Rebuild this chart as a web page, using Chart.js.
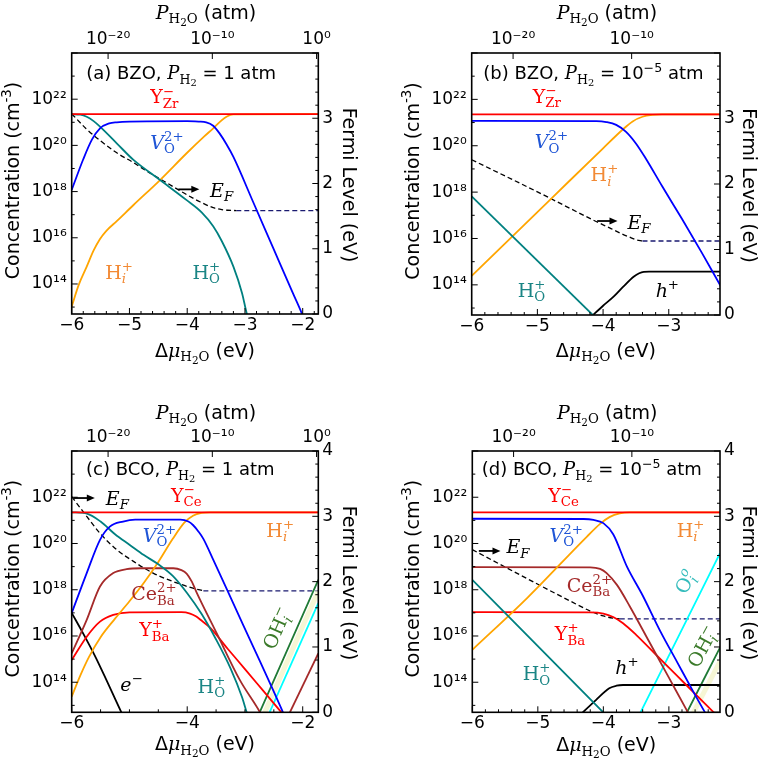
<!DOCTYPE html>
<html><head><meta charset="utf-8">
<script src="https://cdn.jsdelivr.net/npm/chart.js@4"></script>
<style>
html,body{margin:0;padding:0;background:#fff;width:761px;height:760px;overflow:hidden;}
canvas{position:absolute;}
</style></head><body>
<canvas id="ca" width="380" height="380" style="left:0;top:0"></canvas>
<canvas id="cb" width="381" height="380" style="left:380px;top:0"></canvas>
<canvas id="cc" width="380" height="380" style="left:0;top:380px"></canvas>
<canvas id="cd" width="381" height="380" style="left:380px;top:380px"></canvas>
<script>
// ---------- axis parameters ----------
const LOG_MIN = 12.7, LOG_MAX = 24.0;          // log10 concentration range
const MU_P0 = -1.76, MU_PER_DEC = 0.1805;      // Δμ at P=1 atm, eV per decade of P
const concTickExps = [14, 16, 18, 20, 22];
const a_xTicks = [-6, -5, -4, -3, -2];
const b_xTicks = [-6, -5, -4, -3];
const c_xTicks = [-6, -4, -2];
const d_xTicks = [-6, -5, -4, -3];
const ab_fTicks = [0, 1, 2, 3];
const cd_fTicks = [0, 1, 2, 3, 4];
const ac_pExps = [-20, -10, 0];
const bd_pExps = [-20, -10];

// ---------- panel (a) BZO, PH2 = 1 atm (log10 cm^-3 ; Fermi eV) ----------
const a_YZr_x = [-6, -1.73], a_YZr_y = [21.35, 21.35];
const a_VO_x = [-6, -5.8, -5.65, -5.51, -5.35, -5.22, -5.0, -4.0, -3.8, -3.67, -3.55, -3.44, -3.32, -3.2, -2.86, -2.51, -2.17, -2.02, -1.97];
const a_VO_y = [18.07, 19.4, 20.25, 20.74, 20.95, 21.0, 21.03, 21.05, 21.03, 21.0, 20.85, 20.52, 20.05, 19.5, 17.56, 15.55, 13.6, 12.75, 12.4];
const a_HO_x = [-6, -5.85, -5.74, -5.62, -5.51, -5.22, -4.93, -4.47, -4.01, -3.75, -3.55, -3.4, -3.2, -3.05, -2.97, -2.93];
const a_HO_y = [21.35, 21.33, 21.24, 21.05, 20.81, 20.09, 19.37, 18.5, 17.63, 17.1, 16.5, 15.85, 14.75, 13.6, 12.73, 12.4];
const a_Hi_x = [-6, -5.88, -5.74, -5.62, -5.51, -5.4, -5.22, -4.93, -4.47, -4.01, -3.7, -3.55, -3.42, -3.32, -3.2, -1.73];
const a_Hi_y = [13.02, 13.95, 14.75, 15.45, 15.95, 16.3, 16.72, 17.42, 18.5, 19.66, 20.4, 20.74, 21.05, 21.24, 21.34, 21.35];
const a_EF_x = [-6, -5.75, -5.51, -5.22, -4.93, -4.7, -4.47, -4.24, -4.01, -3.78, -3.55, -3.4, -3.3, -3.15];
const a_EF_y = [3.07, 2.84, 2.66, 2.47, 2.32, 2.19, 2.07, 1.95, 1.83, 1.72, 1.63, 1.6, 1.59, 1.585];
const a_EFf_x = [-3.15, -1.73], a_EFf_y = [1.585, 1.585];

// ---------- panel (b) BZO, PH2 = 1e-5 atm ----------
const b_YZr_x = [-6, -2.22], b_YZr_y = [21.35, 21.35];
const b_VO_x = [-6, -4.1, -3.95, -3.8, -3.65, -3.5, -3.35, -3.1, -2.8, -2.5, -2.21];
const b_VO_y = [21.07, 21.06, 21.02, 20.9, 20.6, 20.1, 19.45, 18.25, 16.85, 15.4, 13.95];
const b_Hi_x = [-6, -4.8, -4.0, -3.7, -3.55, -3.4, -3.25, -3.1, -2.22];
const b_Hi_y = [14.39, 17.69, 19.89, 20.7, 21.05, 21.25, 21.33, 21.35, 21.35];
const b_HO_x = [-6, -4.12], b_HO_y = [17.82, 12.6];
const b_hp_x = [-4.19, -4.0, -3.84, -3.7, -3.53, -3.45, -3.38, -3.3, -2.22];
const b_hp_y = [12.6, 13.1, 13.49, 13.9, 14.36, 14.5, 14.56, 14.57, 14.57];
const b_EF_x = [-6, -5, -4.09, -3.9, -3.74, -3.6, -3.5, -3.4];
const b_EF_y = [2.37, 1.88, 1.42, 1.33, 1.25, 1.19, 1.15, 1.13];
const b_EFf_x = [-3.4, -2.22], b_EFf_y = [1.13, 1.13];

// ---------- panel (c) BCO, PH2 = 1 atm ----------
const c_YCe_x = [-6, -1.73], c_YCe_y = [21.35, 21.35];
const c_VO_x = [-6, -5.74, -5.51, -5.34, -5.11, -4.9, -4.12, -3.98, -3.9, -3.8, -3.72, -3.55, -3.2, -2.86, -2.51, -2.36, -2.3];
const c_VO_y = [16.99, 18.72, 20.16, 20.73, 20.95, 21.03, 21.03, 20.95, 20.8, 20.5, 20.2, 19.3, 17.4, 15.55, 13.65, 12.8, 12.45];
const c_HO_x = [-6, -5.75, -5.5, -5.25, -5.0, -4.75, -4.5, -4.25, -4.0, -3.75, -3.5, -3.25, -3.05, -2.97, -2.93];
const c_HO_y = [21.35, 21.3, 20.95, 20.4, 19.95, 19.5, 19.1, 18.6, 17.85, 16.95, 15.85, 14.6, 13.35, 12.7, 12.4];
const c_Hi_x = [-6, -5.85, -5.7, -5.5, -5.25, -5.0, -4.75, -4.5, -4.25, -4.05, -3.9, -3.75, -3.6, -1.73];
const c_Hi_y = [13.38, 14.3, 15.1, 15.95, 16.75, 17.5, 18.3, 19.2, 20.2, 20.9, 21.2, 21.32, 21.35, 21.35];
const c_Ce_x = [-6, -5.74, -5.51, -5.28, -5.05, -4.8, -4.24, -4.1, -4.01, -3.92, -3.84, -3.49, -3.09, -2.74, -2.7];
const c_Ce_y = [15.25, 16.7, 18.14, 18.72, 18.89, 18.93, 18.93, 18.85, 18.7, 18.35, 17.9, 16.12, 14.1, 12.7, 12.5];
const c_Ce2_x = [-2.26, -1.73], c_Ce2_y = [12.5, 15.25];
const c_YBa_x = [-6, -5.74, -5.51, -5.28, -5.0, -4.1, -3.95, -3.85, -3.77, -3.6, -3.3, -3.0, -2.7, -2.37, -2.3];
const c_YBa_y = [14.96, 15.97, 16.62, 16.91, 17.02, 17.03, 16.97, 16.85, 16.7, 16.35, 15.45, 14.57, 13.68, 12.7, 12.5];
const c_e_x = [-6, -5.8, -5.6, -5.4, -5.15, -5.08], c_e_y = [17.0, 16.1, 15.15, 14.1, 12.75, 12.4];
const c_OH_x = [-2.78, -1.73], c_OH_y = [12.5, 18.43];
const c_Oi_x = [-2.6, -1.73], c_Oi_y = [12.55, 17.42];
const c_yel_x = [-2.69, -1.73], c_yel_y = [12.5, 17.95];
const c_EF_x = [-6, -5.74, -5.51, -5.22, -4.93, -4.59, -4.24, -3.9, -3.72];
const c_EF_y = [3.30, 3.0, 2.74, 2.49, 2.31, 2.13, 2.0, 1.9, 1.86];
const c_EFf_x = [-3.72, -1.73], c_EFf_y = [1.86, 1.86];

// ---------- panel (d) BCO, PH2 = 1e-5 atm ----------
const d_YCe_x = [-6, -2.22], d_YCe_y = [21.35, 21.35];
const d_VO_x = [-6, -4.3, -4.15, -4.0, -3.85, -3.64, -3.4, -3.13, -2.87, -2.62, -2.4, -2.35];
const d_VO_y = [21.07, 21.06, 21.02, 20.88, 20.4, 19.0, 17.75, 16.2, 14.85, 13.55, 12.45, 12.2];
const d_Hi_x = [-6, -5.16, -4.25, -4.05, -3.9, -3.75, -3.6, -2.22];
const d_Hi_y = [15.4, 17.65, 20.3, 20.85, 21.15, 21.3, 21.35, 21.35];
const d_Ce_x = [-6, -4.2, -4.05, -3.95, -3.79, -3.6, -3.3, -3.0, -2.72, -2.67];
const d_Ce_y = [18.98, 18.97, 18.9, 18.72, 18.2, 17.3, 15.75, 14.2, 12.75, 12.5];
const d_YBa_x = [-6, -4.2, -4.0, -3.85, -3.7, -3.5, -3.2, -2.9, -2.6, -2.3, -2.25];
const d_YBa_y = [17.03, 17.02, 16.97, 16.82, 16.55, 16.05, 15.2, 14.35, 13.5, 12.65, 12.5];
const d_HO_x = [-6, -3.95], d_HO_y = [18.43, 12.55];
const d_hp_x = [-4.35, -4.11, -3.91, -3.8, -3.7, -3.6, -2.22];
const d_hp_y = [12.6, 13.24, 13.74, 13.85, 13.88, 13.88, 13.88];
const d_Oi_x = [-3.45, -2.22], d_Oi_y = [12.6, 19.58];
const d_OH_x = [-2.76, -2.22], d_OH_y = [12.5, 15.5];
const d_yel_x = [-2.66, -2.22], d_yel_y = [12.5, 14.9];
const d_EF_x = [-6, -5, -4.5, -4.2, -4.0, -3.85, -3.75];
const d_EF_y = [2.49, 1.96, 1.7, 1.55, 1.475, 1.44, 1.43];
const d_EFf_x = [-3.75, -2.22], d_EFf_y = [1.43, 1.43];

// ---------- colours ----------
const RED = '#ff0000', BLUE = '#0000ff', ORANGE = '#ffa500', TEAL = '#008080', BROWN = '#a52a2a',
      CYAN = '#00ffff', GREEN = '#1f7a35', BLACK = '#000000', NAVY = '#1a1a70', PALE = 'rgba(240,240,185,0.6)';
const L_BLUE = '#1f55d6', L_ORANGE = '#f28a35', L_TEAL = '#1b8585', L_CYAN = '#35bcbc', L_GREEN = '#3b7a2a';

// ---------- rich text pieces: [text, pos(0 base,1 sub,2 sup,3 subsub), style(0 serif,1 serif italic,2 sans)] ----------
const T_YZr = [['Y',0,0],['Zr',1,0],['\u2212',2,0]];
const T_YCe = [['Y',0,0],['Ce',1,0],['\u2212',2,0]];
const T_VO = [['V',0,1],['O',1,0],['2+',2,0]];
const T_Hi = [['H',0,0],['i',1,1],['+',2,0]];
const T_HO = [['H',0,0],['O',1,0],['+',2,0]];
const T_EF = [['E',0,1],['F',1,1]];
const T_hp = [['h',0,1],['+',2,0]];
const T_em = [['e',0,1],['\u2212',2,0]];
const T_CeBa = [['Ce',0,0],['Ba',1,0],['2+',2,0]];
const T_YBa = [['Y',0,0],['Ba',1,0],['+',2,0]];
const T_OHi = [['OH',0,0],['i',1,1],['\u2212',2,0]];
const T_Oi = [['O',0,0],['i',1,1],['o',2,1]];
const T_PH2O = [['P',0,1],['H',1,0],['2',3,0],['O',1,0],[' (atm)',0,2]];
const T_DMU = [['\u0394',0,2],['\u03bc',0,1],['H',1,0],['2',3,0],['O',1,0],[' (eV)',0,2]];
const T_CONC = [['Concentration (cm',0,2],['-3',2,2],[')',0,2]];
const T_FERMI = [['Fermi Level (eV)',0,2]];
function titleOne(tag, mat){ return [['('+tag+') '+mat+', ',0,2],['P',0,1],['H',1,0],['2',3,0],[' = 1 atm',0,2]]; }
function titleM5(tag, mat){ return [['('+tag+') '+mat+', ',0,2],['P',0,1],['H',1,0],['2',3,0],[' = 10',0,2],['\u22125',2,2],[' atm',0,2]]; }

function fontFor(sz, st){ return (st===1?'italic ':'') + sz.toFixed(2) + 'px ' + (st===2?'"DejaVu Sans"':'"DejaVu Serif"'); }
function layoutRich(ctx, pieces, size){
  let x = 0, prevPos = -1, subStart = 0, subEnd = 0; const items = [];
  for (const [t,pos,st] of pieces){
    const sc = pos===0?1:(pos===3?0.55:0.7);
    const dy = pos===0?0:(pos===1?0.24*size:(pos===2?-0.42*size:0.38*size));
    ctx.font = fontFor(size*sc, st);
    const w = ctx.measureText(t).width;
    let sx = x;
    if (pos===2 && prevPos===1){ sx = subStart; }
    items.push({t, x:sx, dy, font:ctx.font});
    if (pos===2 && prevPos===1){ x = Math.max(subEnd, sx+w); }
    else { x = sx + w; }
    if (pos===1){ subStart = sx; subEnd = sx + w; }
    prevPos = pos;
  }
  return {items, width:x};
}
function drawRich(ctx, pieces, size, x, y, color, align, rot){
  const L = layoutRich(ctx, pieces, size);
  ctx.save(); ctx.translate(x, y); if (rot) ctx.rotate(rot);
  ctx.fillStyle = color; ctx.textBaseline = 'alphabetic'; ctx.textAlign = 'left';
  const x0 = align==='center' ? -L.width/2 : 0;
  const base = 0.36*size;
  for (const it of L.items){ ctx.font = it.font; ctx.fillText(it.t, x0+it.x, base+it.dy); }
  ctx.restore();
}
const SUPMAP = {'0':'\u2070','1':'\u00b9','2':'\u00b2','3':'\u00b3','4':'\u2074','5':'\u2075','6':'\u2076','7':'\u2077','8':'\u2078','9':'\u2079','-':'\u207b'};
function supStr(n){ return String(n).split('').map(c=>SUPMAP[c]).join(''); }
function numStr(v){ return v<0 ? '\u2212'+Math.abs(v) : String(v); }

// ---------- panel specifications ----------
const DEG = Math.PI/180;
const LBL = 19;
const SPEC = {
  ca: { xmin:-6, xmax:-1.73, xTicks:a_xTicks, xMinor:0.2, fTicks:ab_fTicks, pExps:ac_pExps,
        lay:{left:71.7,right:61.7,top:53,bottom:66}, off:{top:41,bottom:36,left:60,right:32,tx:14.5,ty:20},
        title:titleOne('a','BZO'),
        series:[
          {x:a_YZr_x,y:a_YZr_y,c:RED},{x:a_VO_x,y:a_VO_y,c:BLUE},{x:a_HO_x,y:a_HO_y,c:TEAL},{x:a_Hi_x,y:a_Hi_y,c:ORANGE},
          {x:a_EF_x,y:a_EF_y,c:BLACK,f:1,d:[5,3],w:1.3},{x:a_EFf_x,y:a_EFf_y,c:NAVY,f:1,d:[5,3],w:1.3}],
        labels:[
          {p:T_YZr,x:-4.64,y:22.11,c:RED},{p:T_VO,x:-4.64,y:20.16,c:L_BLUE},{p:T_EF,x:-3.605,y:1.9,f:1,c:BLACK},
          {p:T_Hi,x:-5.42,y:14.53,c:L_ORANGE},{p:T_HO,x:-3.91,y:14.53,c:L_TEAL}],
        arrow:{x1:-4.154,x2:-3.79,y:1.91} },
  cb: { xmin:-6, xmax:-2.22, xTicks:b_xTicks, xMinor:0.2, fTicks:ab_fTicks, pExps:bd_pExps,
        lay:{left:91.7,right:41,top:53,bottom:65}, off:{top:41,bottom:35,left:60,right:30,tx:11.6,ty:20},
        title:titleM5('b','BZO'),
        series:[
          {x:b_YZr_x,y:b_YZr_y,c:RED},{x:b_VO_x,y:b_VO_y,c:BLUE},{x:b_HO_x,y:b_HO_y,c:TEAL},{x:b_Hi_x,y:b_Hi_y,c:ORANGE},
          {x:b_hp_x,y:b_hp_y,c:BLACK},
          {x:b_EF_x,y:b_EF_y,c:BLACK,f:1,d:[5,3],w:1.3},{x:b_EFf_x,y:b_EFf_y,c:NAVY,f:1,d:[5,3],w:1.3}],
        labels:[
          {p:T_YZr,x:-5.07,y:22.15,c:RED},{p:T_VO,x:-5.04,y:20.2,c:L_BLUE},{p:T_Hi,x:-4.19,y:18.76,c:L_ORANGE},
          {p:T_EF,x:-3.63,y:1.42,f:1,c:BLACK},{p:T_HO,x:-5.3,y:13.78,c:L_TEAL},{p:T_hp,x:-3.2,y:13.78,c:BLACK}],
        arrow:{x1:-4.09,x2:-3.78,y:1.435} },
  cc: { xmin:-6, xmax:-1.73, xTicks:c_xTicks, xMinor:0.5, fTicks:cd_fTicks, pExps:ac_pExps,
        lay:{left:71.7,right:61.7,top:71,bottom:47.7}, off:{top:39,bottom:31,left:60,right:32,tx:14.3,ty:18},
        title:titleOne('c','BCO'),
        series:[
          {x:c_YCe_x,y:c_YCe_y,c:RED},{x:c_VO_x,y:c_VO_y,c:BLUE},{x:c_HO_x,y:c_HO_y,c:TEAL},{x:c_Hi_x,y:c_Hi_y,c:ORANGE},
          {x:c_Ce_x,y:c_Ce_y,c:BROWN},{x:c_Ce2_x,y:c_Ce2_y,c:BROWN},{x:c_YBa_x,y:c_YBa_y,c:RED},{x:c_e_x,y:c_e_y,c:BLACK},
          {x:c_yel_x,y:c_yel_y,c:PALE,w:5},{x:c_Oi_x,y:c_Oi_y,c:CYAN},{x:c_OH_x,y:c_OH_y,c:GREEN},
          {x:c_EF_x,y:c_EF_y,c:BLACK,f:1,d:[5,3],w:1.3},{x:c_EFf_x,y:c_EFf_y,c:NAVY,f:1,d:[5,3],w:1.3}],
        labels:[
          {p:T_YCe,x:-4.28,y:22.11,c:RED},{p:T_VO,x:-4.77,y:20.38,c:L_BLUE},{p:T_Hi,x:-2.63,y:20.59,c:L_ORANGE},
          {p:T_EF,x:-5.41,y:3.28,f:1,c:BLACK},{p:T_CeBa,x:-4.97,y:17.85,c:BROWN},{p:T_YBa,x:-4.83,y:16.29,c:RED},
          {p:T_em,x:-5.16,y:13.93,c:BLACK},{p:T_HO,x:-3.82,y:13.84,c:L_TEAL},
          {p:T_OHi,x:-2.45,y:16.34,c:L_GREEN,rot:-66*DEG,al:'center'}],
        arrow:{x1:-5.97,x2:-5.6,y:3.28} },
  cd: { xmin:-6, xmax:-2.22, xTicks:d_xTicks, xMinor:0.2, fTicks:cd_fTicks, pExps:bd_pExps,
        lay:{left:92.3,right:41,top:71,bottom:47.7}, off:{top:39,bottom:32,left:60.6,right:30,tx:9.4,ty:18},
        title:titleM5('d','BCO'),
        series:[
          {x:d_YCe_x,y:d_YCe_y,c:RED},{x:d_VO_x,y:d_VO_y,c:BLUE},{x:d_HO_x,y:d_HO_y,c:TEAL},{x:d_Hi_x,y:d_Hi_y,c:ORANGE},
          {x:d_Ce_x,y:d_Ce_y,c:BROWN},{x:d_YBa_x,y:d_YBa_y,c:RED},{x:d_hp_x,y:d_hp_y,c:BLACK},
          {x:d_yel_x,y:d_yel_y,c:PALE,w:5},{x:d_Oi_x,y:d_Oi_y,c:CYAN},{x:d_OH_x,y:d_OH_y,c:GREEN},
          {x:d_EF_x,y:d_EF_y,c:BLACK,f:1,d:[5,3],w:1.3},{x:d_EFf_x,y:d_EFf_y,c:NAVY,f:1,d:[5,3],w:1.3}],
        labels:[
          {p:T_YCe,x:-4.84,y:22.11,c:RED},{p:T_VO,x:-4.82,y:20.38,c:L_BLUE},{p:T_Hi,x:-2.88,y:20.59,c:L_ORANGE},
          {p:T_EF,x:-5.48,y:2.54,f:1,c:BLACK},{p:T_CeBa,x:-4.56,y:18.21,c:BROWN},{p:T_YBa,x:-4.74,y:16.12,c:RED},
          {p:T_HO,x:-5.23,y:14.39,c:L_TEAL},{p:T_hp,x:-3.82,y:14.67,c:BLACK},
          {p:T_Oi,x:-2.75,y:18.35,c:L_CYAN,rot:-63*DEG,al:'center'},
          {p:T_OHi,x:-2.49,y:15.54,c:L_GREEN,rot:-62*DEG,al:'center'}],
        arrow:{x1:-5.9,x2:-5.57,y:2.47} }
};

// ---------- decoration plugin: frame, inward ticks, titles, labels ----------
const deco = {
  id: 'deco',
  afterDatasetsDraw(chart){
    const P = SPEC[chart.canvas.id]; if (!P) return;
    const ctx = chart.ctx, a = chart.chartArea, S = chart.scales;
    ctx.save();
    ctx.strokeStyle = '#000'; ctx.lineWidth = 1;
    const line = (x1,y1,x2,y2)=>{ ctx.beginPath(); ctx.moveTo(x1,y1); ctx.lineTo(x2,y2); ctx.stroke(); };
    const majX = S.x.ticks.map(t=>t.value);
    for (let v = P.xmin; v <= P.xmax + 1e-9; v += P.xMinor){
      const vv = Math.round(v*100)/100;
      const isMaj = majX.some(m=>Math.abs(m-vv)<1e-6);
      const px = S.x.getPixelForValue(vv);
      line(px, a.bottom, px, a.bottom - (isMaj?6:3));
    }
    for (const t of S.xTop.ticks){ const px = S.xTop.getPixelForValue(t.value); line(px, a.top, px, a.top+6); }
    for (let e = Math.ceil(LOG_MIN); e <= Math.floor(LOG_MAX); e++){
      const py = S.y.getPixelForValue(Math.pow(10,e));
      line(a.left, py, a.left + (e%2===0?6:3), py);
    }
    for (let k = 0; k <= 20; k++){
      const v = k*0.2; const py = S.yF.getPixelForValue(v);
      if (py < a.top - 0.5) continue;
      line(a.right, py, a.right - (k%5===0?6:3), py);
    }
    ctx.lineWidth = 1.6;
    ctx.strokeRect(a.left, a.top, a.right-a.left, a.bottom-a.top);
    const cx = (a.left+a.right)/2, cy = (a.top+a.bottom)/2;
    drawRich(ctx, T_PH2O, 19, cx+11, a.top - P.off.top, '#000', 'center');
    drawRich(ctx, T_DMU, 19, cx+10, a.bottom + P.off.bottom, '#000', 'center');
    drawRich(ctx, T_CONC, 19, a.left - P.off.left, cy - 3, '#000', 'center', -Math.PI/2);
    drawRich(ctx, T_FERMI, 19, a.right + P.off.right, cy + 1.5, '#000', 'center', Math.PI/2);
    drawRich(ctx, P.title, 18, a.left + P.off.tx, a.top + P.off.ty, '#000', 'left');
    for (const L of P.labels){
      const px = S.x.getPixelForValue(L.x);
      const py = L.f ? S.yF.getPixelForValue(L.y) : S.y.getPixelForValue(Math.pow(10, L.y));
      drawRich(ctx, L.p, LBL, px, py, L.c, L.al || 'left', L.rot || 0);
    }
    const A = P.arrow;
    const ax1 = S.x.getPixelForValue(A.x1), ax2 = S.x.getPixelForValue(A.x2), ay = S.yF.getPixelForValue(A.y);
    ctx.strokeStyle = '#000'; ctx.fillStyle = '#000'; ctx.lineWidth = 1.8;
    line(ax1, ay, ax2 - 5, ay);
    ctx.beginPath(); ctx.moveTo(ax2, ay); ctx.lineTo(ax2-8, ay-3.5); ctx.lineTo(ax2-8, ay+3.5); ctx.closePath(); ctx.fill();
    ctx.restore();
  }
};
Chart.register(deco);

const TICKFONT = {family:'"DejaVu Sans"', size:17};
function makePanel(id){
  const P = SPEC[id];
  const datasets = P.series.map(s => ({
    data: s.x.map((x,i)=>({x, y: s.f ? s.y[i] : Math.pow(10, s.y[i])})),
    yAxisID: s.f ? 'yF' : 'y', xAxisID: 'x',
    borderColor: s.c, borderWidth: s.w || 1.8, borderDash: s.d || [],
    pointRadius: 0, fill: false, cubicInterpolationMode: 'monotone'
  }));
  new Chart(document.getElementById(id), {
    type: 'line',
    data: { datasets },
    options: {
      responsive: false, animation: false, devicePixelRatio: 1,
      layout: { padding: 0 },
      plugins: { legend: {display:false}, tooltip: {enabled:false} },
      scales: {
        x: { type:'linear', position:'bottom', min:P.xmin, max:P.xmax, bounds:'data',
             afterBuildTicks: sc => { sc.ticks = P.xTicks.map(v=>({value:v})); },
             afterFit: sc => { sc.height = P.lay.bottom; },
             ticks: { callback: (v)=>numStr(v), font:TICKFONT, color:'#000', padding:1, maxRotation:0, minRotation:0, autoSkip:false },
             grid: { display:false, drawTicks:false }, border: { display:false } },
        xTop: { type:'linear', position:'top', min:P.xmin, max:P.xmax, bounds:'data',
             afterBuildTicks: sc => { sc.ticks = P.pExps.map(e=>({value: MU_P0 + MU_PER_DEC*e})); },
             afterFit: sc => { sc.height = P.lay.top; },
             ticks: { callback: (v,i)=>'10'+supStr(P.pExps[i]), font:TICKFONT, color:'#000', padding:3, maxRotation:0, minRotation:0, autoSkip:false },
             grid: { display:false, drawTicks:false }, border: { display:false } },
        y: { type:'logarithmic', position:'left', min:Math.pow(10,LOG_MIN), max:Math.pow(10,LOG_MAX), bounds:'data',
             afterBuildTicks: sc => { sc.ticks = concTickExps.map(e=>({value: Math.pow(10,e)})); },
             afterFit: sc => { sc.width = P.lay.left; },
             ticks: { callback: (v,i)=>'10'+supStr(concTickExps[i]), font:TICKFONT, color:'#000', padding:5, autoSkip:false },
             grid: { display:false, drawTicks:false }, border: { display:false } },
        yF: { type:'linear', position:'right', min:0, max:4, bounds:'data',
             afterBuildTicks: sc => { sc.ticks = P.fTicks.map(v=>({value:v})); },
             afterFit: sc => { sc.width = P.lay.right; },
             ticks: { callback: (v)=>String(v), font:TICKFONT, color:'#000', padding:4, autoSkip:false },
             grid: { display:false, drawTicks:false }, border: { display:false } }
      }
    }
  });
}
['ca','cb','cc','cd'].forEach(makePanel);
</script>
</body></html>
